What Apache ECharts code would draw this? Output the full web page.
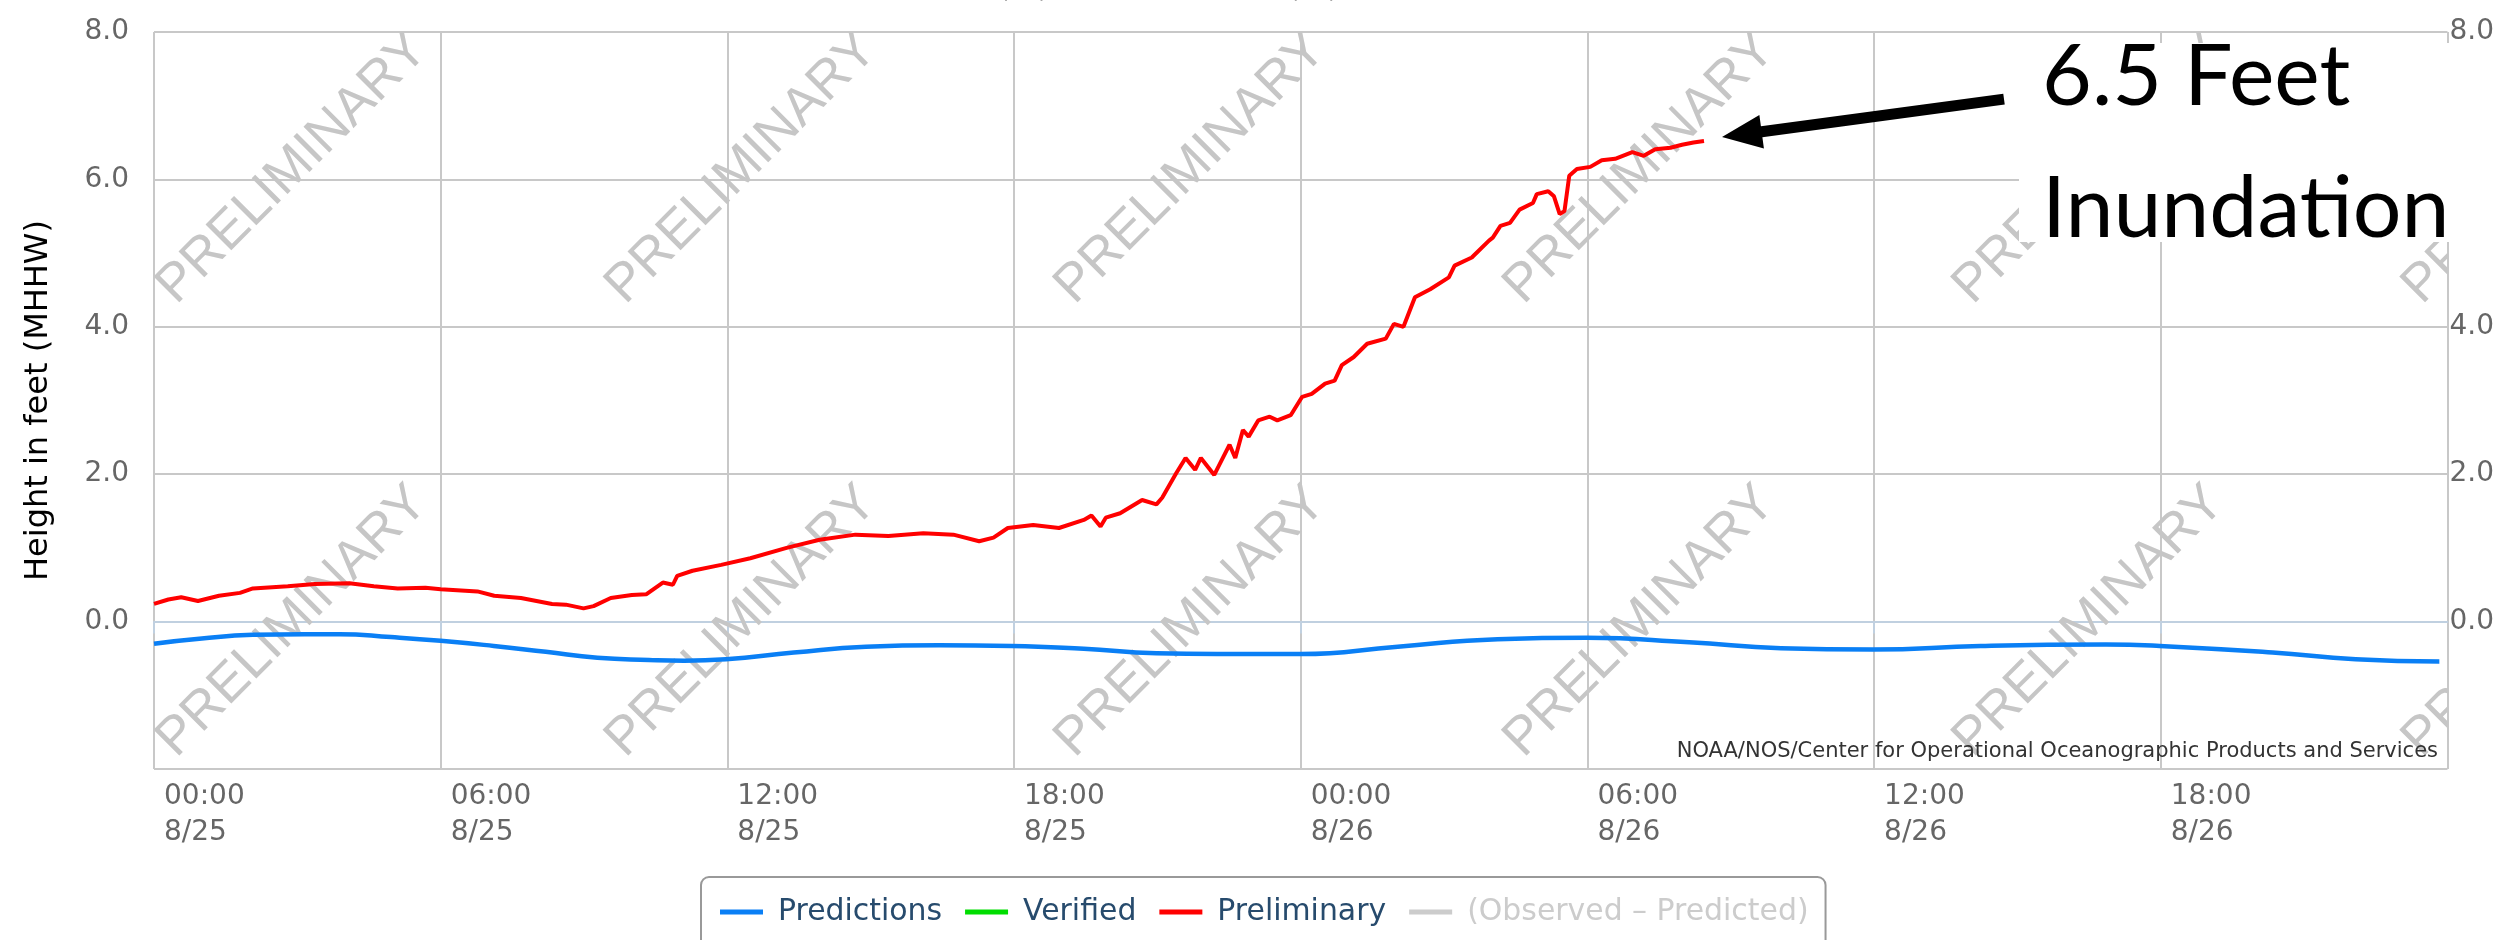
<!DOCTYPE html>
<html><head><meta charset="utf-8">
<script src="https://cdn.jsdelivr.net/npm/echarts@6/dist/echarts.min.js"></script>
<style>html,body{margin:0;padding:0;background:#fff}#c{width:2497px;height:940px}</style>
</head><body><div id="c"></div>
<script>
// ---- data (hours since 2017-08-25 00:00) ----
const tickTimes = ['00:00','06:00','12:00','18:00','00:00','06:00','12:00','18:00'];
const tickDates = ['8/25','8/25','8/25','8/25','8/26','8/26','8/26','8/26'];
const legendNames = ['Predictions','Verified','Preliminary','(Observed \u2013 Predicted)'];

const predHours  = [0,1.0,2.07,3.16,3.88,4.96,6.0,7.11,8.2,9.28,10.36,11.1,11.97,13.39,14.9,16.43,17.95,19.46,20.98,22.25,24.0,26.03,28.12,29.98,32.13,34.05,35.97,38.23,40.85,41.98,44.34,46.08,47.83];
const predValues = [-0.30,-0.23,-0.18,-0.17,-0.17,-0.21,-0.26,-0.33,-0.41,-0.49,-0.52,-0.53,-0.51,-0.42,-0.34,-0.32,-0.33,-0.37,-0.43,-0.44,-0.44,-0.34,-0.24,-0.22,-0.28,-0.36,-0.38,-0.33,-0.31,-0.33,-0.42,-0.51,-0.54];

const prelimHours  = [0.00,0.30,0.57,0.92,1.36,1.80,2.07,2.80,3.37,4.09,4.60,5.10,5.68,6.00,6.77,7.12,7.68,8.33,8.62,8.99,9.20,9.56,10.00,10.30,10.65,10.86,10.95,11.27,11.87,12.48,13.24,13.93,14.68,15.37,16.10,16.73,17.27,17.57,17.87,18.40,18.94,19.46,19.62,19.81,19.92,20.22,20.68,20.98,21.10,21.39,21.59,21.79,21.91,22.19,22.51,22.63,22.79,22.91,23.11,23.35,23.51,23.79,24.03,24.23,24.51,24.71,24.86,25.11,25.39,25.78,25.95,26.15,26.39,26.71,27.10,27.22,27.58,27.94,28.02,28.18,28.38,28.58,28.86,28.94,29.18,29.30,29.42,29.52,29.62,29.78,30.06,30.30,30.58,30.94,31.18,31.42,31.74,31.98,32.22,32.44];
const prelimValues = [0.24,0.30,0.33,0.28,0.35,0.39,0.45,0.48,0.51,0.52,0.48,0.45,0.46,0.44,0.41,0.35,0.32,0.24,0.23,0.18,0.21,0.32,0.36,0.37,0.53,0.50,0.62,0.69,0.77,0.86,1.00,1.11,1.18,1.16,1.20,1.18,1.09,1.14,1.27,1.31,1.27,1.38,1.44,1.29,1.41,1.47,1.65,1.59,1.68,2.01,2.22,2.06,2.22,1.99,2.40,2.22,2.60,2.51,2.73,2.78,2.73,2.80,3.05,3.09,3.23,3.27,3.48,3.59,3.77,3.84,4.04,4.00,4.40,4.51,4.67,4.83,4.94,5.17,5.21,5.37,5.41,5.59,5.68,5.80,5.84,5.77,5.53,5.57,6.05,6.14,6.17,6.26,6.28,6.37,6.32,6.41,6.43,6.47,6.50,6.52];

const wmHours  = [2.9, 12.3, 21.7, 31.1, 40.5, 49.9];
const wmValues = [6.15, 0.0];

// ---- build ----
const zip = (a, b) => a.map((v, i) => [v, b[i]]);
const wmData = [];
wmHours.forEach(h => wmValues.forEach(v => wmData.push([h, v])));

const FONT = '"DejaVu Sans", sans-serif';
const chart = echarts.init(document.getElementById('c'));

const option = {
  animation: false,
  backgroundColor: '#fff',
  grid: { left: 154, right: 43, top: 32, bottom: 171, containLabel: false },
  legend: {
    data: legendNames,
    left: 701, top: 877,
    orient: 'horizontal',
    padding: [20, 17, 40, 19],
    itemGap: 23, itemWidth: 43, itemHeight: 5,
    icon: 'rect',
    borderColor: '#999', borderWidth: 2, borderRadius: 8,
    selected: { '(Observed \u2013 Predicted)': false },
    inactiveColor: '#ccc',
    textStyle: { fontFamily: FONT, fontSize: 29.9, color: '#274b6d', padding: [0, 0, 0, 10] }
  },
  xAxis: {
    type: 'value', min: 0, max: 48, interval: 6,
    axisLine: { show: true, lineStyle: { color: '#c0d0e0', width: 2 } },
    axisTick: { show: true, length: 12, lineStyle: { color: '#c0d0e0', width: 2 } },
    splitLine: { show: true, lineStyle: { color: '#c8c8c8', width: 2 } },
    axisLabel: {
      show: true, align: 'left', verticalAlign: 'top', margin: 10, padding: [0, 0, 0, 10],
      fontFamily: FONT, fontSize: 28, lineHeight: 36, color: '#666',
      showMaxLabel: false,
      formatter: v => { const i = Math.round(v / 6); return i < tickTimes.length ? tickTimes[i] + '\n' + tickDates[i] : ''; }
    }
  },
  yAxis: [{
    type: 'value', min: -2, max: 8, interval: 2, position: 'left',
    name: 'Height in feet (MHHW)', nameLocation: 'middle', nameGap: 99,
    nameTextStyle: { fontFamily: FONT, fontSize: 32, color: '#000' },
    axisLine: { show: false }, axisTick: { show: false },
    splitLine: { show: true, lineStyle: { color: '#c8c8c8', width: 2 } },
    axisLabel: { margin: 25, fontFamily: FONT, fontSize: 28, color: '#666',
      formatter: v => v === -2 ? '' : v.toFixed(1) }
  }, {
    type: 'value', min: -2, max: 8, interval: 2, position: 'right',
    axisLine: { show: false }, axisTick: { show: false }, splitLine: { show: false },
    axisLabel: { margin: 2, fontFamily: FONT, fontSize: 28, color: '#666',
      formatter: v => v === -2 ? '' : v.toFixed(1) }
  }],
  series: [
    {
      type: 'custom', name: 'watermark', silent: true, clip: true, z: 1,
      data: wmData,
      renderItem: (params, api) => {
        const p = api.coord([api.value(0), api.value(1)]);
        return { type: 'text', x: p[0], y: p[1], rotation: Math.PI / 4,
          style: { text: 'PRELIMINARY', fill: '#c6c6c6', font: '53px "Liberation Sans", Arial, sans-serif',
                   align: 'center', verticalAlign: 'middle' } };
      }
    },
    { type: 'line', name: 'Predictions', data: zip(predHours, predValues), smooth: true, showSymbol: false,
      lineStyle: { color: '#0a7ff5', width: 4.5 }, itemStyle: { color: '#0a7ff5' }, z: 3 },
    { type: 'line', name: 'Verified', data: [], showSymbol: false,
      lineStyle: { color: '#00dd00', width: 3 }, itemStyle: { color: '#00dd00' }, z: 3 },
    { type: 'line', name: 'Preliminary', data: zip(prelimHours, prelimValues), showSymbol: false,
      lineStyle: { color: '#ff0000', width: 4 }, itemStyle: { color: '#ff0000' }, z: 4 },
    { type: 'line', name: '(Observed \u2013 Predicted)', data: [], showSymbol: false,
      lineStyle: { color: '#aaaaaa', width: 3 }, itemStyle: { color: '#aaaaaa' }, z: 3 }
  ]
};
chart.setOption(option);

// annotation (arrow points at last preliminary value)
const last = chart.convertToPixel({ gridIndex: 0 }, [prelimHours[prelimHours.length - 1], prelimValues[prelimValues.length - 1]]);
const tip = [last[0] + 18, last[1] - 4];
const tail = [tip[0] + 282, tip[1] - 38];
const dx = tail[0] - tip[0], dy = tail[1] - tip[1], L = Math.hypot(dx, dy);
const u = [dx / L, dy / L], n = [-u[1], u[0]];
const base = [tip[0] + u[0] * 40, tip[1] + u[1] * 40];
const hw = 17, sw = 5.5;
const arrowPts = [
  tip,
  [base[0] + n[0] * hw, base[1] + n[1] * hw],
  [base[0] + n[0] * sw, base[1] + n[1] * sw],
  [tail[0] + n[0] * sw, tail[1] + n[1] * sw],
  [tail[0] - n[0] * sw, tail[1] - n[1] * sw],
  [base[0] - n[0] * sw, base[1] - n[1] * sw],
  [base[0] - n[0] * hw, base[1] - n[1] * hw]
];

chart.setOption({
  graphic: [
    { type: 'text', z: 50, x: 1190, y: 4,
      style: { text: 'From 2017/08/25 00:00 GMT to 2017/08/26 23:59 GMT', fill: '#555', font: '22px ' + FONT, align: 'center', verticalAlign: 'bottom' } },
    { type: 'text', z: 50, x: 2438, y: 752,
      style: { text: 'NOAA/NOS/Center for Operational Oceanographic Products and Services', fill: '#333', font: '21px ' + FONT, align: 'right', verticalAlign: 'middle' } },
    { type: 'rect', z: 100, shape: { x: 2019, y: 43, width: 478, height: 199 }, style: { fill: '#fff' } },
    { type: 'text', z: 101, x: 2042, y: 77,
      style: { text: '6.5 Feet', fill: '#000', font: '86px Lato, sans-serif', align: 'left', verticalAlign: 'middle' } },
    { type: 'text', z: 101, x: 2042, y: 209,
      style: { text: 'Inundation', fill: '#000', font: '86px Lato, sans-serif', align: 'left', verticalAlign: 'middle' } },
    { type: 'polygon', z: 101, shape: { points: arrowPts }, style: { fill: '#000' } }
  ]
});
</script>
</body></html>
